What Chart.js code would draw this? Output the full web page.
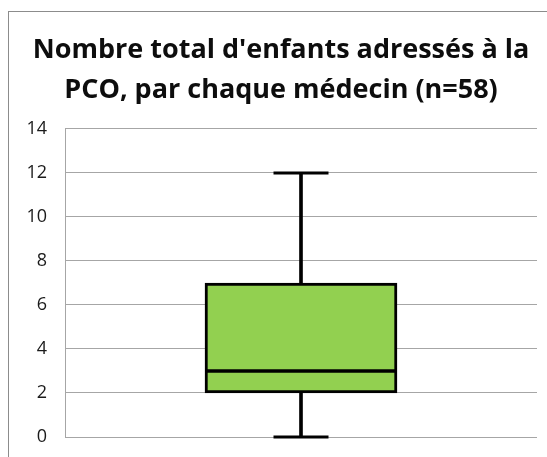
<!DOCTYPE html>
<html>
<head>
<meta charset="utf-8">
<script src="https://cdn.jsdelivr.net/npm/chart.js@4.4.1/dist/chart.umd.min.js"></script>
<style>
  html, body { margin: 0; padding: 0; background: #fff; overflow: hidden; }
  #wrap { position: relative; width: 547px; height: 457px; }
  #frame { position: absolute; left: 8px; top: 11px; width: 600px; height: 500px; border: 1px solid #8c8c8c; box-sizing: border-box; }
  canvas { position: absolute; left: 0; top: 0; }
</style>
</head>
<body>
<div id="wrap">
  <div id="frame"></div>
  <canvas id="c" width="547" height="457"></canvas>
</div>
<script>
// Data
const categories = ['Médecins'];
const whiskerMin = [0];
const quartile1 = [2];
const median = [3];
const quartile3 = [7];
const whiskerMax = [12];
const yTicks = [0, 2, 4, 6, 8, 10, 12, 14];
const titleLines = ["Nombre total d'enfants adressés à la", "PCO, par chaque médecin (n=58)"];

const boxColor = '#92D050';
const ink = '#000000';

new Chart(document.getElementById('c'), {
  type: 'bar',
  data: {
    labels: categories,
    datasets: [
      {
        label: 'Q2-Q3',
        data: categories.map((c, i) => [median[i], quartile3[i]]),
        backgroundColor: boxColor,
        borderColor: ink,
        borderWidth: { top: 3, left: 3, right: 3, bottom: 2 },
        borderSkipped: false,
        barThickness: 192,
        grouped: false
      },
      {
        label: 'Q1-Q2',
        data: categories.map((c, i) => [quartile1[i], median[i]]),
        backgroundColor: boxColor,
        borderColor: ink,
        borderWidth: { top: 2, left: 3, right: 3, bottom: 3 },
        borderSkipped: false,
        barThickness: 192,
        grouped: false
      },
      {
        label: 'whisker low',
        data: categories.map((c, i) => [whiskerMin[i], quartile1[i]]),
        backgroundColor: ink,
        borderWidth: 0,
        barThickness: 3,
        grouped: false
      },
      {
        label: 'whisker high',
        data: categories.map((c, i) => [quartile3[i], whiskerMax[i]]),
        backgroundColor: ink,
        borderWidth: 0,
        barThickness: 3,
        grouped: false
      },
      {
        type: 'line',
        label: 'caps',
        data: categories.flatMap((c, i) => [{ x: i, y: whiskerMin[i] }, { x: i, y: whiskerMax[i] }]),
        showLine: false,
        pointStyle: 'line',
        pointRadius: 27.5,
        pointBorderWidth: 3,
        pointBorderColor: ink,
        borderColor: ink,
        pointHoverRadius: 27.5,
        clip: false
      }
    ]
  },
  options: {
    responsive: false,
    animation: false,
    layout: { autoPadding: false, padding: { left: 25, right: 10, bottom: 20, top: 0 } },
    plugins: {
      legend: { display: false },
      tooltip: { enabled: false },
      title: {
        display: true,
        text: titleLines,
        color: '#0d0d0d',
        font: { family: 'Open Sans', size: 27, weight: 'bold', lineHeight: 1.48 },
        padding: { top: 30, bottom: 19 }
      }
    },
    scales: {
      x: {
        display: false,
        offset: true
      },
      y: {
        min: 0,
        max: 14,
        afterBuildTicks: (s) => { s.ticks = yTicks.map(v => ({ value: v })); },
        afterFit: (s) => { s.width = 40; s.paddingTop = 0; s.paddingBottom = 0; },
        ticks: {
          color: '#1a1a1a',
          font: { family: 'Open Sans', size: 18 },
          padding: 18
        },
        grid: {
          color: '#a6a6a6',
          lineWidth: 1,
          drawTicks: false
        },
        border: { display: true, color: '#a6a6a6', width: 1 }
      }
    }
  }
});
</script>
</body>
</html>
